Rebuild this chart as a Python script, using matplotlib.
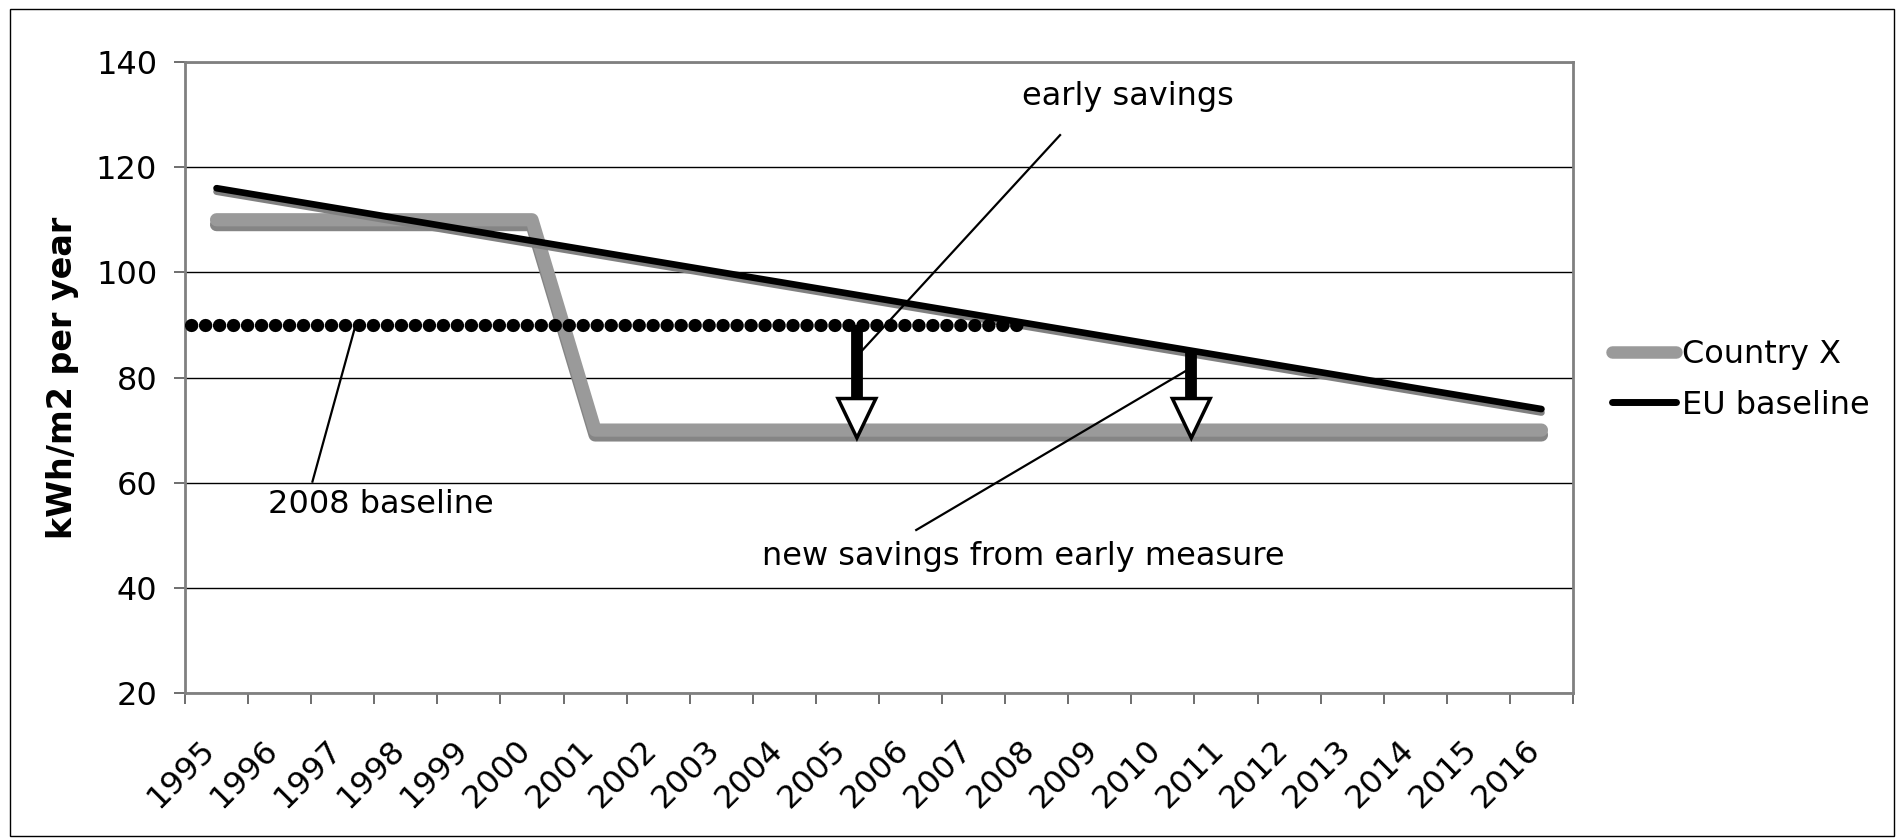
import numpy as np
import matplotlib
matplotlib.use('Agg')
import matplotlib.pyplot as plt
import matplotlib.patheffects as pe
from matplotlib.lines import Line2D
from matplotlib.patches import Polygon, Rectangle

# data
years = ['1995', '1996', '1997', '1998', '1999', '2000', '2001', '2002', '2003', '2004', '2005',
         '2006', '2007', '2008', '2009', '2010', '2011', '2012', '2013', '2014', '2015', '2016']
country_x = [110, 110, 110, 110, 110, 110, 70, 70, 70, 70, 70,
             70, 70, 70, 70, 70, 70, 70, 70, 70, 70, 70]
eu_baseline = [116, 114, 112, 110, 108, 106, 104, 102, 100, 98, 96,
               94, 92, 90, 88, 86, 84, 82, 80, 78, 76, 74]
baseline_2008 = 90
baseline_2008_span = [-0.4, 12.75]

# savings arrows (x position, start value), head between head_top and tip
arrow_x = [10.15, 15.45]
arrow_from = [90, 85]
arrow_head_top = 76
arrow_tip = 68.5
arrow_half_w = 0.3

# annotation texts: label, text pos, leader line (x0, y0, x1, y1)
notes = [
    ('early savings', (14.44, 133.5), (13.37, 126.1, 10.23, 85.1)),
    ('2008 baseline', (2.61, 55.8), (1.52, 60.2, 2.2, 89.8)),
    ('new savings from early measure', (12.79, 45.9), (11.09, 51.0, 15.37, 81.3)),
]

FS = 23

fig = plt.figure(figsize=(18.96, 8.38), dpi=100)
ax = fig.add_axes([185 / 1896, 1 - 693 / 838, (1573 - 185) / 1896, (693 - 62) / 838])

x = np.arange(len(years))

ax.plot(x, country_x, color='#9a9a9a', lw=9.5, solid_capstyle='round', solid_joinstyle='round',
        path_effects=[pe.SimpleLineShadow(offset=(0, -3.5), shadow_color='#858585', alpha=1), pe.Normal()],
        zorder=3)
ax.plot(x, eu_baseline, color='black', lw=4.8, solid_capstyle='round',
        path_effects=[pe.SimpleLineShadow(offset=(0, -2.5), shadow_color='#808080', alpha=1), pe.Normal()],
        zorder=4)

# dotted 2008 baseline
ax.plot(baseline_2008_span, [baseline_2008, baseline_2008], color='black', lw=9.5,
        dashes=(0.02, 1.04), dash_capstyle='round', zorder=5)

# block arrows
for ax_x, y0 in zip(arrow_x, arrow_from):
    ax.plot([ax_x, ax_x], [y0, arrow_head_top], color='black', lw=8.5, solid_capstyle='butt', zorder=6)
    head = Polygon([(ax_x - arrow_half_w, arrow_head_top), (ax_x + arrow_half_w, arrow_head_top),
                    (ax_x, arrow_tip)], closed=True, facecolor='white', edgecolor='black', lw=2.5,
                   joinstyle='miter', zorder=7)
    ax.add_patch(head)

# annotations
for label, (tx, ty), (x0, y0, x1, y1) in notes:
    ax.plot([x0, x1], [y0, y1], color='black', lw=1.6, zorder=6)
    ax.text(tx, ty, label, fontsize=FS, ha='center', va='center', zorder=8)

ax.set_xlim(-0.5, len(years) - 0.5)
ax.set_ylim(20, 140)
ax.set_yticks(range(20, 141, 20))
ax.yaxis.grid(True, color='black', lw=1)
ax.set_axisbelow(True)

ax.set_xticks(np.arange(-0.5, len(years), 1))
ax.set_xticklabels([])
ax.set_xticks(x, minor=True)
ax.set_xticklabels(years, minor=True)
ax.tick_params(axis='x', which='major', length=8, width=1.2, color='#555555', direction='out')
ax.tick_params(axis='x', which='minor', length=0, pad=42, labelsize=FS)
ax.tick_params(axis='y', length=8, width=1.2, color='#555555', pad=12, labelsize=FS)
for t in ax.get_xticklabels(minor=True):
    t.set_rotation(45)
    t.set_ha('right')
    t.set_va('baseline')
    t.set_rotation_mode('anchor')

for s in ax.spines.values():
    s.set_color('#808080')
    s.set_linewidth(2)

ax.set_ylabel('kWh/m2 per year', fontsize=24, fontweight='bold', labelpad=12)

handles = [Line2D([], [], color='#9a9a9a', lw=9, solid_capstyle='round'),
           Line2D([], [], color='black', lw=5, solid_capstyle='round')]
fig.legend(handles, ['Country X', 'EU baseline'], loc='center left',
           bbox_to_anchor=(1612 / 1896, 1 - 380 / 838), frameon=False, fontsize=FS,
           handlelength=2.0, handletextpad=0.2, labelspacing=0.6, borderpad=0, borderaxespad=0)

fig.patches.append(Rectangle((10 / 1896, 1 - 836 / 838), 1884 / 1896, 827 / 838,
                             transform=fig.transFigure, fill=False, ec='black', lw=1))

fig.savefig('out.png', dpi=100)
